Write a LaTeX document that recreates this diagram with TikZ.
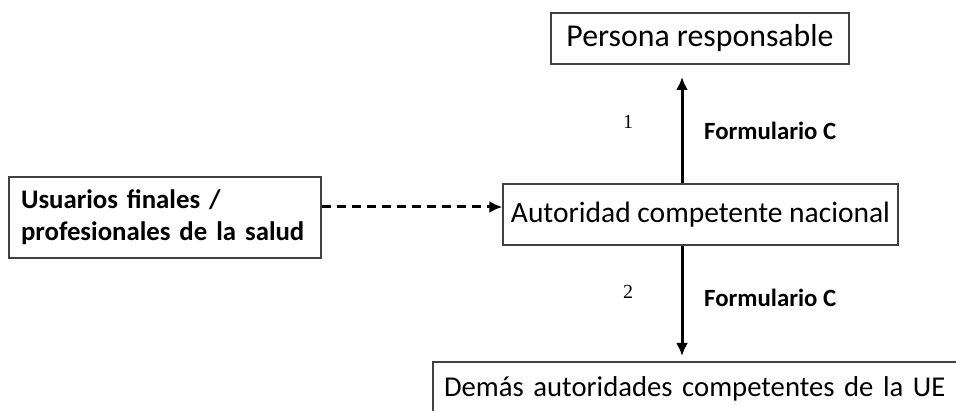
\documentclass[tikz,border=0pt]{standalone}
\usepackage{fontspec}
\setmainfont{Carlito}
\newfontfamily\numfont{Liberation Serif}
\usetikzlibrary{arrows.meta,positioning}

\begin{document}
\begin{tikzpicture}[x=1pt,y=-1pt,
        box/.style={draw=black!75, line width=1.4pt, inner sep=0pt,
          font=\fontsize{29.5}{35}\selectfont},
        flow/.style={line width=3pt, -{Latex[length=13pt,width=12pt]}},
        formlabel/.style={anchor=west, inner sep=0pt, font=\fontsize{24.8}{30}\selectfont\bfseries},
        numlabel/.style={inner sep=0pt, font=\fontsize{20}{23}\numfont}]
        \useasboundingbox (0,0) rectangle (956,411);
        \clip (0,0) rectangle (956,411);
        % boxes
        \node [box, minimum width=298pt, minimum height=51pt, font=\fontsize{31.8}{37}\selectfont]
          (resp) at (700,38.5) {Persona responsable};
        \node [box, minimum width=395pt, minimum height=61pt] (nac) at (700.5,214.5) {Autoridad competente nacional};
        \node [box, minimum width=312pt, minimum height=81pt, text width=288pt, inner xsep=12pt,
          align=left, font=\fontsize{26.8}{32}\selectfont\bfseries] (usu) at (165,217.5)
          {Usuarios finales /\\profesionales de la salud};
        \node [box, minimum width=540pt, minimum height=54pt, text width=518pt, inner xsep=11pt,
          align=left, font=\fontsize{28.7}{34}\selectfont] (dem) at (703,389)
          {\mbox{Demás autoridades competentes de la UE}};
        % arrows
        \coordinate (uptip) at (682,77);
        \coordinate (downtip) at (682,356);
        \draw [flow] (nac.north -| uptip) -- (uptip);
        \draw [flow] (nac.south -| downtip) -- (downtip);
        \draw [line width=3pt, dash pattern=on 9pt off 6pt, -{Latex[length=13pt,width=12pt]}]
          (usu.east |- 0,207) -- (nac.west |- 0,207);
        % labels
        \node [numlabel] (n1) at (628,122) {1};
        \node [formlabel] (f1) at (704,131) {Formulario C};
        \node [numlabel] (n2) at (628,292) {2};
        \node [formlabel] (f2) at (704,298) {Formulario C};
\end{tikzpicture}
\end{document}
